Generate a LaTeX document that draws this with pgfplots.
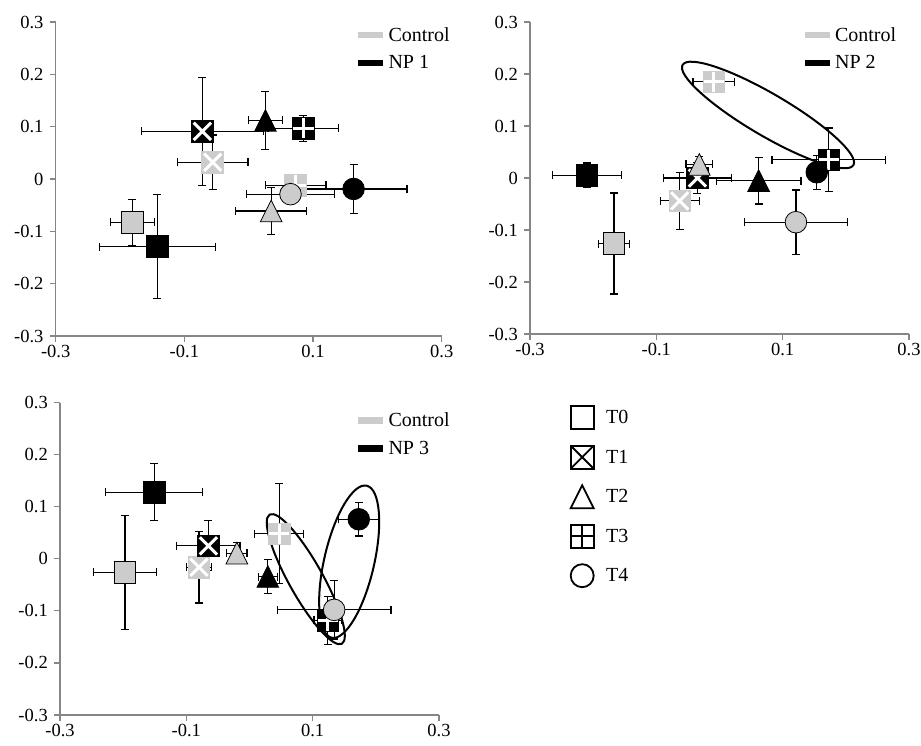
\documentclass[border=0pt]{standalone}
\usepackage{pgfplots}
\pgfplotsset{compat=1.18}
\usepackage{fontspec}
\setmainfont{Liberation Serif}
\definecolor{cgray}{RGB}{204,204,204}
\definecolor{axgray}{RGB}{134,134,134}

% ---- custom marks ----
\pgfdeclareplotmark{sq}{%
  \pgfpathrectangle{\pgfqpoint{-\pgfplotmarksize}{-\pgfplotmarksize}}{\pgfqpoint{2\pgfplotmarksize}{2\pgfplotmarksize}}%
  \pgfusepathqfillstroke}
\pgfdeclareplotmark{tri}{%
  \pgfpathmoveto{\pgfqpoint{0pt}{\pgfplotmarksize}}%
  \pgfpathlineto{\pgfqpoint{\pgfplotmarksize}{-\pgfplotmarksize}}%
  \pgfpathlineto{\pgfqpoint{-\pgfplotmarksize}{-\pgfplotmarksize}}%
  \pgfpathclose\pgfusepathqfillstroke}
\pgfdeclareplotmark{sqXw}{%
  \pgfpathrectangle{\pgfqpoint{-\pgfplotmarksize}{-\pgfplotmarksize}}{\pgfqpoint{2\pgfplotmarksize}{2\pgfplotmarksize}}%
  \pgfusepathqfillstroke
  \pgfscope\pgfsetstrokecolor{white}\pgfsetlinewidth{3bp}%
  \pgfpathmoveto{\pgfqpoint{-.8\pgfplotmarksize}{-.8\pgfplotmarksize}}%
  \pgfpathlineto{\pgfqpoint{.8\pgfplotmarksize}{.8\pgfplotmarksize}}%
  \pgfpathmoveto{\pgfqpoint{-.8\pgfplotmarksize}{.8\pgfplotmarksize}}%
  \pgfpathlineto{\pgfqpoint{.8\pgfplotmarksize}{-.8\pgfplotmarksize}}%
  \pgfusepathqstroke\endpgfscope}
\pgfdeclareplotmark{sqPw}{%
  \pgfpathrectangle{\pgfqpoint{-\pgfplotmarksize}{-\pgfplotmarksize}}{\pgfqpoint{2\pgfplotmarksize}{2\pgfplotmarksize}}%
  \pgfusepathqfillstroke
  \pgfscope\pgfsetstrokecolor{white}\pgfsetlinewidth{3bp}%
  \pgfpathmoveto{\pgfqpoint{-.95\pgfplotmarksize}{0pt}}%
  \pgfpathlineto{\pgfqpoint{.95\pgfplotmarksize}{0pt}}%
  \pgfpathmoveto{\pgfqpoint{0pt}{.95\pgfplotmarksize}}%
  \pgfpathlineto{\pgfqpoint{0pt}{-.95\pgfplotmarksize}}%
  \pgfusepathqstroke\endpgfscope}
\pgfdeclareplotmark{sqXk}{%
  \pgfpathrectangle{\pgfqpoint{-\pgfplotmarksize}{-\pgfplotmarksize}}{\pgfqpoint{2\pgfplotmarksize}{2\pgfplotmarksize}}%
  \pgfusepathqfillstroke
  \pgfpathmoveto{\pgfqpoint{-\pgfplotmarksize}{-\pgfplotmarksize}}%
  \pgfpathlineto{\pgfqpoint{\pgfplotmarksize}{\pgfplotmarksize}}%
  \pgfpathmoveto{\pgfqpoint{-\pgfplotmarksize}{\pgfplotmarksize}}%
  \pgfpathlineto{\pgfqpoint{\pgfplotmarksize}{-\pgfplotmarksize}}%
  \pgfusepathqstroke}
\pgfdeclareplotmark{sqPk}{%
  \pgfpathrectangle{\pgfqpoint{-\pgfplotmarksize}{-\pgfplotmarksize}}{\pgfqpoint{2\pgfplotmarksize}{2\pgfplotmarksize}}%
  \pgfusepathqfillstroke
  \pgfpathmoveto{\pgfqpoint{-\pgfplotmarksize}{0pt}}%
  \pgfpathlineto{\pgfqpoint{\pgfplotmarksize}{0pt}}%
  \pgfpathmoveto{\pgfqpoint{0pt}{\pgfplotmarksize}}%
  \pgfpathlineto{\pgfqpoint{0pt}{-\pgfplotmarksize}}%
  \pgfusepathqstroke}

\tikzset{el/.style={black, line width=2bp}}
\pgfplotsset{
  myax/.style={
    scale only axis, clip=false,
    xmin=-0.3, xmax=0.3, ymin=-0.3, ymax=0.3,
    axis lines*=left,
    axis line style={axgray, line width=1.2bp},
    tick style={axgray, line width=1.2bp},
    tick align=outside, major tick length=5.7bp,
    xtick={-0.3,-0.1,0.1,0.3}, xticklabels={-0.3,-0.1,0.1,0.3},
    ytick={-0.3,-0.2,-0.1,0,0.1,0.2,0.3},
    yticklabels={-0.3,-0.2,-0.1,0,0.1,0.2,0.3},
    minor tick num=0,
    tick label style={font=\fontsize{18.5bp}{20bp}\selectfont, black},
    yticklabel style={xshift=-3bp},
    legend style={draw=none, fill=none, font=\fontsize{20bp}{22bp}\selectfont,
      anchor=north west, row sep=9bp, inner sep=0pt},
    legend cell align=left,
    legend image code/.code={\draw[##1] (0bp,0bp) -- (25bp,0bp);},
  },
  eb/.style={/pgfplots/error bars/x dir=both, /pgfplots/error bars/x explicit,
    /pgfplots/error bars/y dir=both, /pgfplots/error bars/y explicit,
    /pgfplots/error bars/error bar style={black, line width=1.2bp},
    /pgfplots/error bars/error mark options={rotate=90, black, line width=1.2bp, mark size=4bp}},
  ctl/.style={forget plot, only marks, mark size=10.8bp,
    mark options={fill=cgray, draw=black, line width=0.8bp}, eb},
  ctlw/.style={forget plot, only marks, mark size=10.8bp,
    mark options={fill=cgray, draw=cgray, line width=0.8bp}, eb},
  np/.style={forget plot, only marks, mark size=10.8bp,
    mark options={fill=black, draw=black, line width=0.8bp}, eb},
  shp/.style={only marks, mark=#1, mark size=11.5bp,
    mark options={fill=white, draw=black, line width=1.8bp}},
  shplegend/.style={
    legend image code/.code={\path[draw=none, fill=none] (0bp,0bp) -- (34bp,0bp);\draw[##1] plot coordinates {(12bp,0bp)};}},
}
\newcommand{\pt}[6]{\addplot[#1,mark=#2] coordinates {(#3,#4) +- (#5,#6)};}

\begin{document}
\begin{tikzpicture}
\useasboundingbox (0,0) rectangle (921bp,746bp);

% ---------------- Panel 1 ----------------
\begin{axis}[myax, at={(55.7bp,410bp)}, anchor=south west, width=386bp, height=314bp,
  legend style={at={(0.775,0.99)}}]
\addlegendimage{cgray, line width=6.5bp}\addlegendentry{Control}
\addlegendimage{black, line width=6.5bp}\addlegendentry{NP 1}
\pt{ctl}{sq}{-0.181}{-0.083}{0.034}{0.044}
\pt{np}{sq}{-0.142}{-0.129}{0.090}{0.099}
\pt{ctlw}{sqXw}{-0.056}{0.032}{0.055}{0.052}
\pt{np}{sqXw}{-0.072}{0.091}{0.095}{0.103}
\pt{ctl}{tri}{0.035}{-0.061}{0.055}{0.045}
\pt{np}{tri}{0.026}{0.112}{0.026}{0.055}
\pt{ctlw}{sqPw}{0.073}{-0.012}{0.047}{0.006}
\pt{np}{sqPw}{0.085}{0.097}{0.055}{0.025}
\pt{ctl}{*}{0.065}{-0.029}{0.068}{0.018}
\pt{np}{*}{0.163}{-0.019}{0.083}{0.047}
\end{axis}

% ---------------- Panel 2 ----------------
\begin{axis}[myax, at={(530bp,412bp)}, anchor=south west, width=379bp, height=312bp,
  legend style={at={(0.716,0.99)}}]
\addlegendimage{cgray, line width=6.5bp}\addlegendentry{Control}
\addlegendimage{black, line width=6.5bp}\addlegendentry{NP 2}
\pt{ctl}{sq}{-0.167}{-0.126}{0.025}{0.097}
\pt{np}{sq}{-0.210}{0.005}{0.055}{0.024}
\pt{ctlw}{sqXw}{-0.063}{-0.044}{0.031}{0.055}
\pt{np}{sqXw}{-0.035}{0.000}{0.054}{0.030}
\pt{ctl}{tri}{-0.032}{0.026}{0.021}{0.015}
\pt{np}{tri}{0.062}{-0.005}{0.067}{0.045}
\pt{ctlw}{sqPw}{-0.009}{0.185}{0.033}{0.004}
\pt{np}{sqPw}{0.173}{0.035}{0.090}{0.061}
\pt{ctl}{*}{0.121}{-0.085}{0.081}{0.062}
\pt{np}{*}{0.154}{0.011}{0.015}{0.033}
\draw[el, rotate around={-30.4:(axis cs:0.0768,0.1212)}] (axis cs:0.0768,0.1212) ellipse [x radius=99bp, y radius=21bp];
\end{axis}

% ---------------- Panel 3 ----------------
\begin{axis}[myax, at={(60bp,31bp)}, anchor=south west, width=379bp, height=312.3bp,
  legend style={at={(0.778,0.975)}}]
\addlegendimage{cgray, line width=6.5bp}\addlegendentry{Control}
\addlegendimage{black, line width=6.5bp}\addlegendentry{NP 3}
\pt{ctl}{sq}{-0.197}{-0.026}{0.050}{0.109}
\pt{np}{sq}{-0.151}{0.128}{0.077}{0.055}
\pt{ctlw}{sqXw}{-0.080}{-0.016}{0.020}{0.069}
\pt{np}{sqXw}{-0.065}{0.025}{0.050}{0.048}
\pt{ctl}{tri}{-0.020}{0.011}{0.016}{0.020}
\pt{np}{tri}{0.029}{-0.034}{0.015}{0.032}
\pt{ctlw}{sqPw}{0.047}{0.048}{0.039}{0.096}
\pt{np}{sqPw}{0.124}{-0.118}{0.022}{0.046}
\pt{ctl}{*}{0.134}{-0.098}{0.090}{0.056}
\pt{np}{*}{0.173}{0.076}{0.032}{0.032}
\draw[el, rotate around={-60.8:(axis cs:0.0891,-0.039)}] (axis cs:0.0891,-0.039) ellipse [x radius=74bp, y radius=17bp];
\draw[el, rotate around={77:(axis cs:0.1578,-0.0055)}] (axis cs:0.1578,-0.0055) ellipse [x radius=78bp, y radius=25bp];
\end{axis}

% ---------------- Shape legend ----------------
\begin{axis}[hide axis, scale only axis, width=10bp, height=10bp,
  at={(570bp,340bp)}, anchor=north west, xmin=0, xmax=1, ymin=0, ymax=1,
  legend style={draw=none, fill=none, font=\fontsize{20bp}{22bp}\selectfont,
    at={(0,1)}, anchor=north west, row sep=16.5bp, inner sep=0pt},
  legend cell align=left, shplegend]
\addlegendimage{shp=sq}\addlegendentry{T0}
\addlegendimage{shp=sqXk}\addlegendentry{T1}
\addlegendimage{shp=tri}\addlegendentry{T2}
\addlegendimage{shp=sqPk}\addlegendentry{T3}
\addlegendimage{shp=*}\addlegendentry{T4}
\end{axis}
\end{tikzpicture}
\end{document}
